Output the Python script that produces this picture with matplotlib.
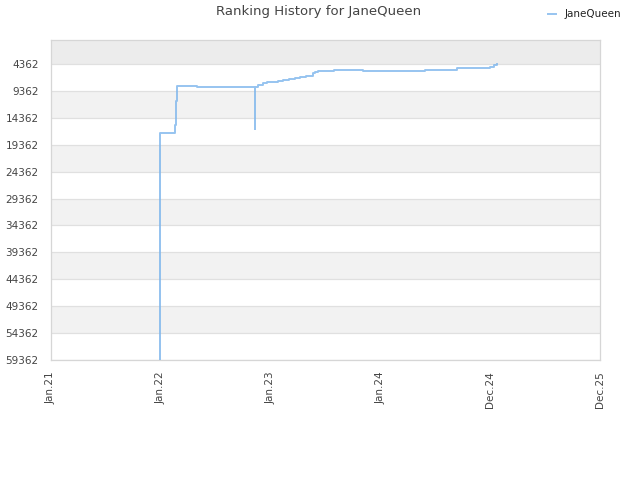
import matplotlib
matplotlib.use("Agg")
import matplotlib.pyplot as plt

# x positions are in years since Jan 2021 (tick spacing is uniform in the reference)
dates = [0.993, 0.993, 0.993, 0.993, 1.129, 1.136, 1.145, 1.327, 1.858, 1.862,
         1.888, 1.934, 1.964, 2.013, 2.067, 2.113, 2.168, 2.222, 2.268, 2.322,
         2.383, 2.389, 2.404, 2.432, 2.577, 2.839, 3.406, 3.695, 3.998, 4.035,
         4.062]
ranks = [59362, 20340, 59362, 17127, 15690, 11237, 8450, 8580, 16495, 8580,
         8264, 7948, 7762, 7651, 7465, 7279, 7093, 6907, 6722, 6536,
         6406, 5940, 5793, 5607, 5421, 5607, 5421, 5050, 4864, 4600,
         4362]

x_ticks = [0, 1, 2, 3, 4, 5]
x_labels = ["Jan.21", "Jan.22", "Jan.23", "Jan.24", "Dec.24", "Dec.25"]
y_ticks = [4362, 9362, 14362, 19362, 24362, 29362, 34362, 39362, 44362,
           49362, 54362, 59362]

fig = plt.figure(figsize=(6.4, 4.8), dpi=100)
ax = fig.add_axes([51 / 640, 120 / 480, 549 / 640, 320 / 480])

y_top = -100
ax.axhspan(y_top, y_ticks[0], color="#ececec", zorder=0, lw=0)
for lo, hi in zip(y_ticks[1::2], y_ticks[2::2]):
    ax.axhspan(lo, hi, color="#f2f2f2", zorder=0, lw=0)
for y in y_ticks:
    ax.axhline(y, color="#e0e0e0", lw=0.9, zorder=1)

ax.plot(dates, ranks, drawstyle="steps-post", color="#7cb5ec", alpha=0.8,
        lw=1.4, label="JaneQueen", zorder=3)

ax.set_xlim(0, 5)
ax.set_ylim(59362, y_top)
ax.set_xticks(x_ticks)
ax.set_xticklabels(x_labels, rotation=90)
ax.set_yticks(y_ticks)
ax.set_yticklabels([str(v) for v in y_ticks])
ax.tick_params(length=0, labelsize=7.5, labelcolor="#444444")
ax.tick_params(axis="y", pad=9)
ax.tick_params(axis="x", pad=8)
for spine in ax.spines.values():
    spine.set_color("#d6d6d6")
    spine.set_linewidth(0.9)

fig.text(0.497, 0.975, "Ranking History for JaneQueen", ha="center", va="center",
         fontsize=9.5, color="#444444")
fig.legend(loc="upper right", bbox_to_anchor=(0.985, 1.0), frameon=False,
           fontsize=7.5, handlelength=0.8, labelcolor="#222222")

fig.savefig("out.png", dpi=100)
